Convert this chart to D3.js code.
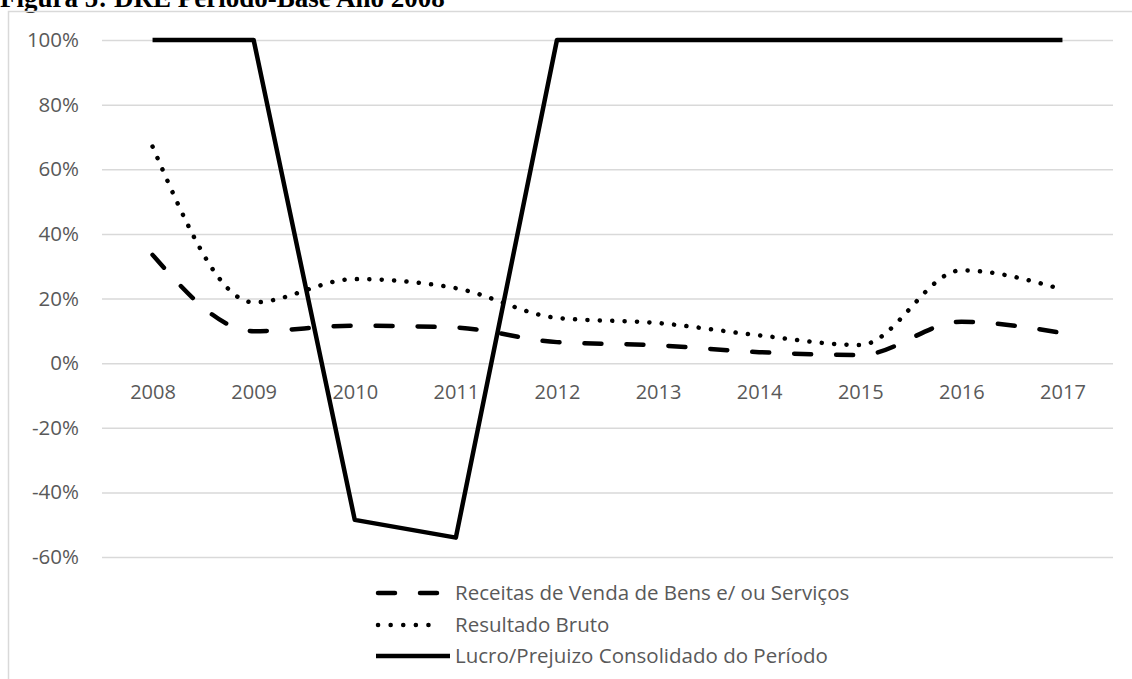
<!DOCTYPE html>
<html>
<head>
<meta charset="utf-8">
<script src="https://cdn.jsdelivr.net/npm/d3@7"></script>
<style>
  html, body { margin: 0; padding: 0; background: #fff; }
  svg { display: block; }
</style>
</head>
<body>
<svg id="chart" width="1132" height="679"></svg>
<script>
// Years on the category axis
const years = ["2008", "2009", "2010", "2011", "2012", "2013", "2014", "2015", "2016", "2017"];
// Series values, in percent
const receitas = [33.5, 9.9, 11.6, 11.0, 6.5, 5.5, 3.4, 2.5, 12.8, 9.3];
const resultadoBruto = [67.0, 18.8, 26.0, 23.2, 14.0, 12.4, 8.6, 5.6, 28.7, 22.8];
const lucroPrejuizo = [100, 100, -48.5, -54.0, 100, 100, 100, 100, 100, 100];
// Value-axis ticks, in percent
const yTicks = [-60, -40, -20, 0, 20, 40, 60, 80, 100];
// Legend labels
const seriesNames = [
  "Receitas de Venda de Bens e/ ou Serviços",
  "Resultado Bruto",
  "Lucro/Prejuizo Consolidado do Período"
];
const titleText = "Figura 5: DRE Período-Base Ano 2008";

const svg = d3.select("#chart");
const plot = { left: 102, right: 1113, top: 40, bottom: 557 };
const labelFont = "'Open Sans', 'Liberation Sans', sans-serif";
const grey = "#595959";

const x = d3.scalePoint().domain(years).range([plot.left, plot.right]).padding(0.5);
const y = d3.scaleLinear().domain([-60, 100]).range([plot.bottom, plot.top]);

// Title (sits above the chart frame)
svg.append("text")
  .attr("x", 0).attr("y", 7)
  .attr("font-family", "'Liberation Serif', 'Times New Roman', serif")
  .attr("font-weight", "bold").attr("font-size", 27)
  .attr("fill", "#000")
  .text(titleText);

// Chart frame
svg.append("rect")
  .attr("x", 8.5).attr("y", 11.5)
  .attr("width", 1130).attr("height", 700)
  .attr("fill", "none").attr("stroke", "#d9d9d9").attr("stroke-width", 1.5);

// Horizontal gridlines and percentage labels
const yAxis = d3.axisLeft(y).tickValues(yTicks)
  .tickSize(-(plot.right - plot.left))
  .tickPadding(23)
  .tickFormat(d => d + "%");
const yg = svg.append("g").attr("transform", `translate(${plot.left},0)`).call(yAxis);
yg.select(".domain").remove();
yg.selectAll(".tick line").attr("stroke", "#d9d9d9").attr("stroke-width", 1.5);
yg.selectAll(".tick text")
  .attr("fill", grey).attr("font-family", labelFont).attr("font-size", 20.5);

// Year labels, placed just under the zero line
const xAxis = d3.axisBottom(x).tickSize(0).tickPadding(22);
const xg = svg.append("g").attr("transform", `translate(0,${y(0)})`).call(xAxis);
xg.select(".domain").remove();
xg.selectAll(".tick text")
  .attr("fill", grey).attr("font-family", labelFont).attr("font-size", 20);

const smooth = d3.line()
  .x((d, i) => x(years[i])).y(d => y(d))
  .curve(d3.curveMonotoneX);
const straight = d3.line()
  .x((d, i) => x(years[i])).y(d => y(d));

const styles = [
  { dash: "17 25", cap: "round" },
  { dash: "0.1 12.3", cap: "round" },
  { dash: null, cap: "butt" }
];

function styleLine(sel, s) {
  sel.attr("fill", "none").attr("stroke", "#000").attr("stroke-width", 4.5)
    .attr("stroke-linecap", s.cap).attr("stroke-linejoin", "round");
  if (s.dash) sel.attr("stroke-dasharray", s.dash);
  return sel;
}

styleLine(svg.append("path").attr("d", smooth(receitas)), styles[0]);
styleLine(svg.append("path").attr("d", smooth(resultadoBruto)), styles[1]);
styleLine(svg.append("path").attr("d", straight(lucroPrejuizo)), styles[2]);

// Legend
const legendRows = [593, 625, 656];
const legend = svg.append("g");
seriesNames.forEach((name, i) => {
  const ly = legendRows[i];
  const row = legend.append("g");
  styleLine(row.append("line")
    .attr("x1", i === 2 ? 376 : 378).attr("x2", i === 2 ? 450 : 441)
    .attr("y1", ly).attr("y2", ly), styles[i])
    .attr("stroke-dasharray", i === 1 ? "0.1 12.5" : styles[i].dash);
  row.append("text")
    .attr("x", 455).attr("y", ly + 7)
    .attr("fill", grey).attr("font-family", labelFont).attr("font-size", 20.5)
    .text(name);
});
</script>
</body>
</html>
